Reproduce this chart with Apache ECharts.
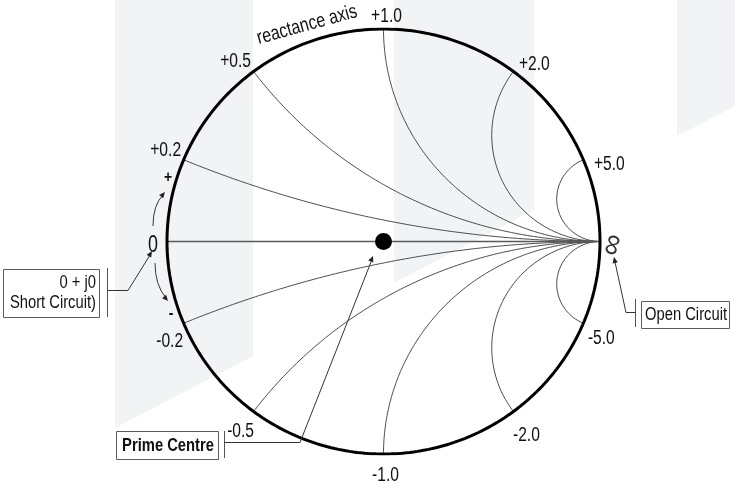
<!DOCTYPE html>
<html>
<head>
<meta charset="utf-8">
<script src="https://cdn.jsdelivr.net/npm/echarts@6/dist/echarts.min.js"></script>
<style>
  html, body { margin: 0; padding: 0; background: #ffffff; }
  #chart { width: 735px; height: 487px; }
</style>
</head>
<body>
<div id="chart"></div>
<script>
// Normalised reactance values of the constant-reactance arcs
const reactances = [0.2, 0.5, 1.0, 2.0, 5.0, -0.2, -0.5, -1.0, -2.0, -5.0];
const reactanceLabels = ['+0.2', '+0.5', '+1.0', '+2.0', '+5.0', '-0.2', '-0.5', '-1.0', '-2.0', '-5.0'];
// Prime centre of the chart: z = 1 + j0 maps to reflection coefficient 0
const primeCentre = [[0, 0]];
// Pure-resistance axis, from short circuit (z = 0) to open circuit (z = inf)
const resistanceAxis = [[-1, 0], [1, 0]];

// Label placement around the rim (pixel offsets from each arc's end point)
const labelOffsets = [[-18, -9], [-18, -10], [3, -13], [21, -7], [26, 5],
                      [-14, 18], [-13, 20], [2, 21], [13, 24], [18, 15]];

const FONT = '"Liberation Sans", Arial, sans-serif';
const NARROW = 0.8;   // horizontal squeeze for a condensed look
const INK = '#111111';

// Reflection coefficient for normalised impedance r + jx
function gamma(r, x) {
  const den = (r + 1) * (r + 1) + x * x;
  return [(r * r + x * x - 1) / den, (2 * x) / den];
}

// Constant-reactance arc: sweep resistance from 0 to infinity
function reactanceArc(x) {
  const pts = [];
  const n = 400;
  for (let i = 0; i < n; i++) {
    const r = Math.tan((i / n) * Math.PI / 2);
    pts.push(gamma(r, x));
  }
  pts.push([1, 0]);
  return pts;
}

// Outer boundary |gamma| = 1 (zero resistance)
function boundary() {
  const pts = [];
  for (let i = 0; i <= 720; i++) {
    const a = (i / 720) * Math.PI * 2;
    pts.push([Math.cos(a), Math.sin(a)]);
  }
  return pts;
}

const series = [];

reactances.forEach(function (x) {
  series.push({
    type: 'line', data: reactanceArc(x), showSymbol: false, silent: true,
    lineStyle: { color: '#4a4a4a', width: 1 }, z: 2
  });
});

series.push({
  type: 'line', data: resistanceAxis, showSymbol: false, silent: true,
  lineStyle: { color: '#5a5a5a', width: 1.5 }, z: 2
});

series.push({
  type: 'line', data: boundary(), showSymbol: false, silent: true,
  lineStyle: { color: '#000000', width: 3 }, z: 3
});

series.push({
  type: 'scatter', data: primeCentre, symbolSize: 17, silent: true,
  itemStyle: { color: '#000000', opacity: 1 }, z: 4
});

// Rim labels placed at the end point of each arc
series.push({
  type: 'custom', silent: true, z: 5,
  data: reactances.map(function (x) { return gamma(0, x); }),
  renderItem: function (params, api) {
    const p = api.coord([api.value(0), api.value(1)]);
    const off = labelOffsets[params.dataIndex];
    return {
      type: 'text', x: p[0] + off[0], y: p[1] + off[1], scaleX: 0.78,
      style: {
        text: reactanceLabels[params.dataIndex], fontFamily: FONT, fontSize: 20,
        fill: INK, align: 'center', verticalAlign: 'middle'
      }
    };
  }
});

// Small filled arrow head pointing from 'from' towards 'tip'
function arrowHead(tip, from, size) {
  const dx = tip[0] - from[0], dy = tip[1] - from[1];
  const L = Math.hypot(dx, dy);
  const ux = dx / L, uy = dy / L, px = -uy, py = ux;
  const bx = tip[0] - ux * size, by = tip[1] - uy * size;
  const w = size * 0.45;
  return {
    type: 'polygon', z: 100,
    shape: { points: [tip, [bx + px * w, by + py * w], [bx - px * w, by - py * w]] },
    style: { fill: '#222' }
  };
}

function polyline(points, color, width) {
  return { type: 'polyline', z: 100, shape: { points: points },
           style: { stroke: color || '#333', lineWidth: width || 1, fill: null } };
}

function text(x, y, str, opts) {
  return {
    type: 'text', x: x, y: y, z: 101,
    rotation: (opts && opts.rotation) || 0,
    scaleX: (opts && opts.scaleX) || 0.82,
    style: Object.assign({
      text: str, fontFamily: FONT, fontSize: 18, fill: INK,
      align: 'center', verticalAlign: 'middle'
    }, opts && opts.style)
  };
}

function box(x, y, w, h) {
  return { type: 'rect', z: 99, shape: { x: x, y: y, width: w, height: h },
           style: { fill: '#ffffff', stroke: '#5c5c5c', lineWidth: 1 } };
}

const BAND = '#f2f3f5';
const graphics = [
  // pale background bands
  { type: 'polygon', z: -10, shape: { points: [[115, 0], [253, 0], [253, 356], [115, 428]] }, style: { fill: BAND } },
  { type: 'polygon', z: -10, shape: { points: [[394, 0], [534, 0], [534, 210], [394, 283]] }, style: { fill: BAND } },
  { type: 'polygon', z: -10, shape: { points: [[677, 0], [735, 0], [735, 106], [677, 136]] }, style: { fill: BAND } },

  // axis caption along the rim
  text(307, 25, 'reactance axis', { rotation: 0.27, scaleX: NARROW, style: { fontSize: 20 } }),

  // short circuit end
  text(153, 246, '0', { scaleX: 0.78, style: { fontSize: 23 } }),
  text(168, 177, '+', { style: { fontSize: 17, fontWeight: 'bold' } }),
  text(171, 313, '-', { style: { fontSize: 17, fontWeight: 'bold' } }),
  { type: 'bezierCurve', z: 100, shape: { x1: 153, y1: 226, cpx1: 153, cpy1: 205, x2: 163, y2: 195 },
    style: { stroke: '#333', lineWidth: 1, fill: null } },
  arrowHead([165, 192], [160, 198], 6),
  { type: 'bezierCurve', z: 100, shape: { x1: 155, y1: 263, cpx1: 155, cpy1: 285, x2: 166, y2: 298 },
    style: { stroke: '#333', lineWidth: 1, fill: null } },
  arrowHead([168, 301], [162, 294], 6),

  box(3.5, 269.5, 96, 48),
  text(96, 283, '0 + j0', { style: { align: 'right' } }),
  text(96, 303, 'Short Circuit)', { style: { align: 'right' } }),
  polyline([[107.5, 268], [107.5, 317]], '#555', 1),
  polyline([[107.5, 290.5], [128, 290.5], [150, 255]], '#333', 1),
  arrowHead([152, 251], [146, 261], 6),

  // open circuit end
  text(613, 245, '\u221E', { rotation: 1.3, scaleX: 1, style: { fontSize: 30, fill: '#333' } }),
  box(641.5, 301.5, 88, 27),
  text(686, 315, 'Open Circuit'),
  polyline([[635.5, 299], [635.5, 327]], '#555', 1),
  polyline([[635.5, 312.5], [626, 312.5], [615, 262]], '#333', 1),
  arrowHead([614, 257], [616, 267], 6),

  // prime centre
  box(116.5, 431.5, 102, 28),
  text(168, 446, 'Prime Centre', { style: { fontWeight: 'bold' } }),
  polyline([[224.5, 431], [224.5, 458]], '#555', 1),
  polyline([[224.5, 442.5], [300, 442.5], [371, 262]], '#333', 1),
  arrowHead([373, 256], [369, 266], 6)
];

const chart = echarts.init(document.getElementById('chart'));
chart.setOption({
  backgroundColor: '#ffffff',
  animation: false,
  grid: { left: 167, top: 29, width: 433, height: 425 },
  xAxis: { type: 'value', min: -1, max: 1, show: false },
  yAxis: { type: 'value', min: -1, max: 1, show: false },
  series: series,
  graphic: { elements: graphics }
});
</script>
</body>
</html>
